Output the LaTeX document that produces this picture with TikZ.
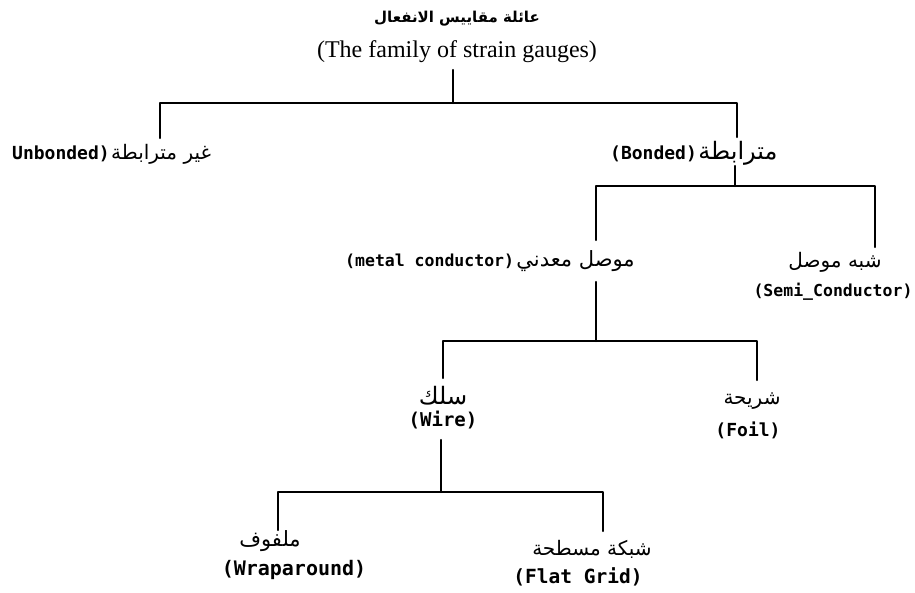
\documentclass[tikz,border=0pt]{standalone}
\usepackage{fontspec}
\setmainfont{Liberation Serif}
\newfontfamily\hand{DejaVu Sans Mono}
\newfontfamily\arabicfont[Script=Arabic]{DejaVu Sans}
\TeXXeTstate=1
\begin{document}
\begin{tikzpicture}[x=1pt,y=-1pt,
  tree/.style={line width=2.4pt,line cap=round,line join=round},
  lbl/.style={inner sep=0pt,anchor=center},
  en/.style={lbl,font=\hand\bfseries\fontsize{#1}{#1}\selectfont},
  ar/.style={lbl,font=\arabicfont\fontsize{#1}{#1}\selectfont}]
\useasboundingbox[fill=white] (0,0) rectangle (915,592);
% titles
\node[lbl,font=\arabicfont\bfseries\fontsize{15}{18}\selectfont] (titleAr) at (457,19) {\beginR عائلة مقاييس الانفعال\endR};
\node[lbl,font=\fontsize{24}{26}\selectfont] (titleEn) at (457,52) {(The family of strain gauges)};
% level 1
\node[en=18,anchor=base west] (unbEn) at (12,159) {Unbonded)};
\node[ar=20,anchor=base west] (unbAr) at ([xshift=1pt]unbEn.base east) {\beginR غير مترابطة\endR};
\node[en=18,anchor=base west] (bonEn) at (610,159) {(Bonded)};
\node[ar=24,anchor=base west] (bonAr) at ([xshift=1pt]bonEn.base east) {\beginR مترابطة\endR};
% level 2
\node[en=16.5,anchor=base west] (metEn) at (345,266) {(metal conductor)};
\node[ar=21,anchor=base west] (metAr) at ([xshift=2pt]metEn.base east) {\beginR موصل معدني\endR};
\node[ar=20] (semiAr) at (835,262) {\beginR شبه موصل\endR};
\node[en=16.5] (semiEn) at (833,292) {(Semi\_Conductor)};
% level 3
\node[ar=24] (wireAr) at (443,396) {\beginR سلك\endR};
\node[en=19] (wireEn) at (443,420) {(Wire)};
\node[ar=20] (foilAr) at (752,401) {\beginR شريحة\endR};
\node[en=18] (foilEn) at (748,430) {(Foil)};
% level 4
\node[ar=21] (wrapAr) at (270,541) {\beginR ملفوف\endR};
\node[en=20] (wrapEn) at (294,570) {(Wraparound)};
\node[ar=20] (flatAr) at (592,549) {\beginR شبكة مسطحة\endR};
\node[en=19.5] (flatEn) at (578,577) {(Flat Grid)};
% junction coordinates
\coordinate (t0) at (453,70);
\coordinate (j0) at (453,103);
\coordinate (j0l) at (160,103);
\coordinate (j0r) at (737,103);
\coordinate (unbT) at (160,138);
\coordinate (bonT) at (737,137);
\coordinate (bonB) at (735,166);
\coordinate (j1) at (735,186);
\coordinate (j1l) at (596,186);
\coordinate (j1r) at (875,186);
\coordinate (metT) at (596,240);
\coordinate (semiT) at (875,247);
\coordinate (metB) at (596,282);
\coordinate (j2) at (596,341);
\coordinate (j2l) at (443,341);
\coordinate (j2r) at (757,341);
\coordinate (wireT) at (443,378);
\coordinate (foilT) at (757,380);
\coordinate (wireB) at (441,440);
\coordinate (j3) at (441,492);
\coordinate (j3l) at (278,492);
\coordinate (j3r) at (603,492);
\coordinate (wrapT) at (278,530);
\coordinate (flatT) at (603,531);
% connectors
\draw[tree] (t0) -- (j0);
\draw[tree] (unbT) -- (j0l) -- (j0r) -- (bonT);
\draw[tree] (bonB) -- (j1);
\draw[tree] (metT) -- (j1l) -- (j1r) -- (semiT);
\draw[tree] (metB) -- (j2);
\draw[tree] (wireT) -- (j2l) -- (j2r) -- (foilT);
\draw[tree] (wireB) -- (j3);
\draw[tree] (wrapT) -- (j3l) -- (j3r) -- (flatT);
\end{tikzpicture}
\end{document}
